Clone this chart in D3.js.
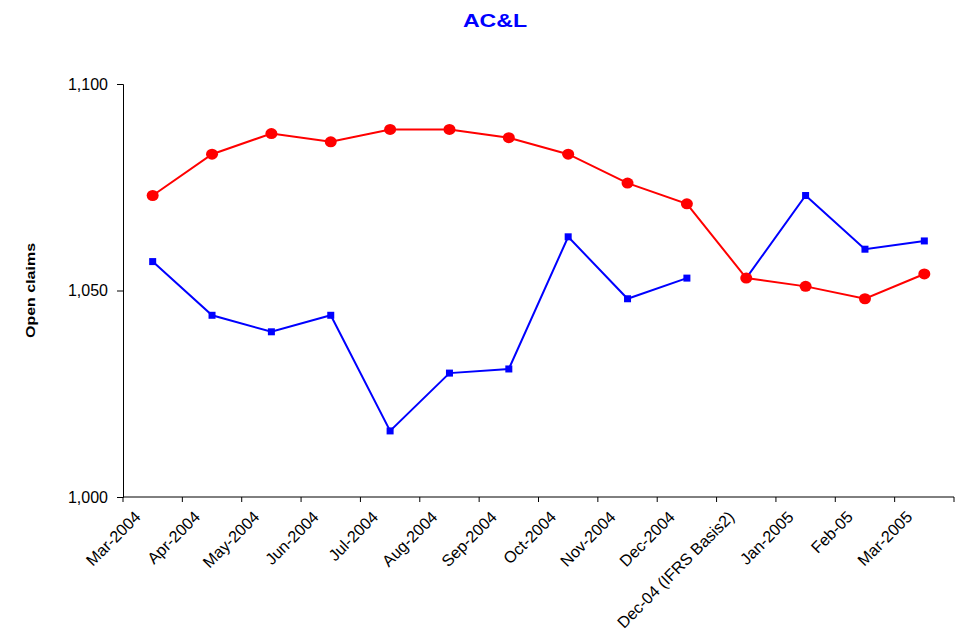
<!DOCTYPE html>
<html>
<head>
<meta charset="utf-8">
<script src="https://cdn.jsdelivr.net/npm/d3@7"></script>
<style>
  body { margin: 0; background: #fff; }
  svg { font-family: "Liberation Sans", Arial, sans-serif; }
</style>
</head>
<body>
<svg width="962" height="634"></svg>
<script>
var categories = ["Mar-2004", "Apr-2004", "May-2004", "Jun-2004", "Jul-2004", "Aug-2004",
  "Sep-2004", "Oct-2004", "Nov-2004", "Dec-2004", "Dec-04 (IFRS Basis2)",
  "Jan-2005", "Feb-05", "Mar-2005"];

var redValues = [1073, 1083, 1088, 1086, 1089, 1089, 1087, 1083, 1076, 1071, 1053, 1051, 1048, 1054];

// blue splits at the basis change: old basis up to Dec-2004, new basis from Dec-04 (IFRS)
var blueOld = [1057, 1044, 1040, 1044, 1016, 1030, 1031, 1063, 1048, 1053, null, null, null, null];
var blueNew = [null, null, null, null, null, null, null, null, null, null, 1053, 1073, 1060, 1062];

var yTicks = [1000, 1050, 1100];

var svg = d3.select("svg");
var mLeft = 123, mRight = 954, mTop = 84, mBottom = 497;
var stretch = 1.25; // bold texts in the original are drawn wide

var x = d3.scaleBand().domain(categories).range([mLeft, mRight]);
var y = d3.scaleLinear().domain([1000, 1100]).range([mBottom, mTop]);

var cx = function(d, i) { return x(categories[i]) + x.bandwidth() / 2; };

// title
svg.append("text")
  .attr("transform", "translate(495,27) scale(" + stretch + ",1)")
  .attr("text-anchor", "middle")
  .attr("font-size", 18.5).attr("font-weight", "bold")
  .attr("fill", "#0000ff")
  .text("AC&L");

// y label
svg.append("text")
  .attr("transform", "translate(35," + y(1050) + ") rotate(-90) scale(" + stretch + ",1)")
  .attr("text-anchor", "middle")
  .attr("font-size", 12.8).attr("font-weight", "bold")
  .text("Open claims");

// y axis
var yAxis = svg.append("g")
  .attr("transform", "translate(" + mLeft + ",0)")
  .call(d3.axisLeft(y).tickValues(yTicks).tickSize(6).tickPadding(9)
    .tickFormat(d3.format(",")));
yAxis.selectAll("text")
  .attr("font-size", 16).attr("font-family", "Liberation Sans, Arial, sans-serif").attr("fill", "#000");
yAxis.select(".domain").attr("stroke", "#000");
yAxis.selectAll(".tick line").attr("stroke", "#000");

// x axis, ticks at category boundaries
var xg = svg.append("g");
xg.append("line")
  .attr("x1", mLeft).attr("x2", mRight)
  .attr("y1", mBottom).attr("y2", mBottom)
  .attr("stroke", "#000");
xg.selectAll(".xt")
  .data(categories.concat(["end"]))
  .enter().append("line")
  .attr("x1", function(d, i) { return mLeft + i * x.bandwidth(); })
  .attr("x2", function(d, i) { return mLeft + i * x.bandwidth(); })
  .attr("y1", mBottom).attr("y2", mBottom + 5)
  .attr("stroke", "#000");
xg.selectAll(".xl")
  .data(categories)
  .enter().append("text")
  .attr("transform", function(d, i) {
    return "translate(" + (cx(d, i) - 11) + "," + (mBottom + 21) + ") rotate(-45)";
  })
  .attr("text-anchor", "end")
  .attr("font-size", 16.2)
  .text(function(d) { return d; });

var line = d3.line()
  .defined(function(d) { return d != null; })
  .x(cx)
  .y(function(d) { return y(d); });

function drawSeries(vals, color) {
  svg.append("path")
    .datum(vals)
    .attr("fill", "none")
    .attr("stroke", color)
    .attr("stroke-width", 2)
    .attr("d", line);
}

drawSeries(blueOld, "#0000ff");
drawSeries(blueNew, "#0000ff");

var bluePts = [];
blueOld.forEach(function(v, i) { if (v != null) bluePts.push({ i: i, v: v }); });
blueNew.forEach(function(v, i) { if (v != null) bluePts.push({ i: i, v: v }); });
svg.selectAll(".bm")
  .data(bluePts)
  .enter().append("rect")
  .attr("x", function(d) { return cx(null, d.i) - 3.5; })
  .attr("y", function(d) { return y(d.v) - 3.5; })
  .attr("width", 7).attr("height", 7)
  .attr("fill", "#0000ff");

drawSeries(redValues, "#ff0000");
svg.selectAll(".rm")
  .data(redValues)
  .enter().append("ellipse")
  .attr("cx", cx)
  .attr("cy", function(d) { return y(d); })
  .attr("rx", 6).attr("ry", 5.5)
  .attr("fill", "#ff0000");
</script>
</body>
</html>
